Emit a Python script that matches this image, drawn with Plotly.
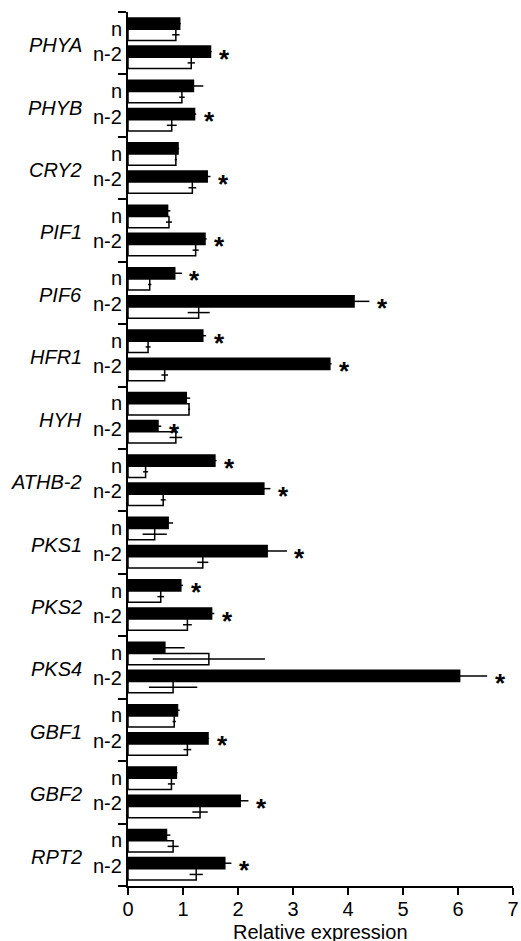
import plotly.graph_objects as go

genes = ["PHYA", "PHYB", "CRY2", "PIF1", "PIF6", "HFR1", "HYH", "ATHB-2",
         "PKS1", "PKS2", "PKS4", "GBF1", "GBF2", "RPT2"]
row_labels = ["n", "n-2"]

black_n = [0.94, 1.19, 0.91, 0.72, 0.85, 1.36, 1.06, 1.58, 0.73, 0.96, 0.67, 0.90, 0.88, 0.70]
black_n_err = [0.02, 0.18, 0.02, 0.05, 0.13, 0.06, 0.07, 0.03, 0.09, 0.04, 0.36, 0.04, 0.02, 0.07]
white_n = [0.87, 0.98, 0.87, 0.745, 0.395, 0.365, 1.11, 0.32, 0.485, 0.595, 1.47, 0.84, 0.79, 0.82]
white_n_err = [0.067, 0.05, 0.02, 0.055, 0.03, 0.045, 0.02, 0.045, 0.22, 0.06, 1.02, 0.03, 0.065, 0.10]
black_n2 = [1.50, 1.21, 1.44, 1.40, 4.11, 3.67, 0.545, 2.47, 2.53, 1.52, 6.03, 1.455, 2.04, 1.76]
black_n2_err = [0.02, 0.03, 0.06, 0.03, 0.28, 0.03, 0.06, 0.12, 0.36, 0.05, 0.50, 0.02, 0.15, 0.12]
white_n2 = [1.15, 0.795, 1.17, 1.23, 1.285, 0.667, 0.87, 0.64, 1.36, 1.08, 0.82, 1.08, 1.31, 1.24]
white_n2_err = [0.067, 0.09, 0.07, 0.055, 0.20, 0.06, 0.115, 0.045, 0.10, 0.08, 0.44, 0.07, 0.14, 0.12]
sig_n = [False, False, False, False, True, True, False, True, False, True, False, False, False, False]
sig_n2 = [True] * 14

x_ticks = [0, 1, 2, 3, 4, 5, 6, 7]
x_title = "Relative expression"

FONT = "Liberation Sans, Arial, sans-serif"
N = len(genes)
TOP = 2 * N
BW = 0.36


def block_top(i):
    return TOP - 2 * i


y_bn = [block_top(i) - 0.37 for i in range(N)]
y_wn = [block_top(i) - 0.73 for i in range(N)]
y_bn2 = [block_top(i) - 1.27 for i in range(N)]
y_wn2 = [block_top(i) - 1.63 for i in range(N)]

fig = go.Figure()

err_style = dict(type="data", symmetric=True, color="black", thickness=1.5, width=0)

black_vals = black_n + black_n2
black_errs = black_n_err + black_n2_err
black_y = y_bn + y_bn2
white_vals = white_n + white_n2
white_errs = white_n_err + white_n2_err
white_y = y_wn + y_wn2

fig.add_trace(go.Bar(
    x=black_vals, y=black_y, orientation="h", width=BW,
    marker=dict(color="black", line=dict(color="black", width=1.5)),
    error_x=dict(array=black_errs, **err_style),
    showlegend=False, hoverinfo="x",
))
fig.add_trace(go.Bar(
    x=white_vals, y=white_y, orientation="h", width=BW,
    marker=dict(color="white", line=dict(color="black", width=1.5)),
    error_x=dict(array=white_errs, **err_style),
    showlegend=False, hoverinfo="x",
))

annotations = []
star_font = dict(family=FONT, size=26, color="black")
for i in range(N):
    if sig_n[i]:
        annotations.append(dict(x=black_n[i] + black_n_err[i], y=y_bn[i], text="<b>*</b>",
                                showarrow=False, xanchor="center", xshift=13, yshift=-7,
                                font=star_font))
    if sig_n2[i]:
        annotations.append(dict(x=black_n2[i] + black_n2_err[i], y=y_bn2[i], text="<b>*</b>",
                                showarrow=False, xanchor="center", xshift=13, yshift=-7,
                                font=star_font))

for i, g in enumerate(genes):
    t = block_top(i)
    annotations.append(dict(x=0, y=t - 0.535, text=row_labels[0], showarrow=False,
                            xanchor="right", xshift=-4.5,
                            font=dict(family=FONT, size=20, color="black")))
    annotations.append(dict(x=0, y=t - 1.35, text=row_labels[1], showarrow=False,
                            xanchor="right", xshift=-4.5,
                            font=dict(family=FONT, size=20, color="black")))
    annotations.append(dict(x=0, y=t - 1.06, text="<i>" + g + "</i>", showarrow=False,
                            xanchor="right", xshift=-44,
                            font=dict(family=FONT, size=20, color="black")))

# x-axis title
annotations.append(dict(xref="paper", yref="paper", x=0.5, y=0, text=x_title,
                        showarrow=False, xanchor="center", yanchor="middle", yshift=-46,
                        font=dict(family=FONT, size=20, color="black")))

fig.update_layout(
    width=521, height=941,
    margin=dict(l=128, r=8, t=12, b=55, autoexpand=False),
    plot_bgcolor="white", paper_bgcolor="white",
    barmode="overlay",
    annotations=annotations,
    font=dict(family=FONT, size=20, color="black"),
    xaxis=dict(range=[0, 7], tickvals=x_ticks, ticktext=[str(v) for v in x_ticks],
               ticks="outside", ticklen=7, tickwidth=2, tickcolor="black",
               ticklabelstandoff=-3,
               showline=True, linewidth=2, linecolor="black",
               showgrid=False, zeroline=False, automargin=False,
               tickfont=dict(family=FONT, size=20, color="black")),
    yaxis=dict(range=[0, TOP], tickvals=list(range(0, TOP + 1, 2)),
               ticks="outside", ticklen=8, tickwidth=2, tickcolor="black",
               showticklabels=False, showline=True, linewidth=2, linecolor="black",
               showgrid=False, zeroline=False, automargin=False),
)

fig.write_html(
    "out.html",
    config={"displayModeBar": False},
    post_script=(
        "document.documentElement.style.margin='0';"
        "document.documentElement.style.overflow='hidden';"
        "document.body.style.margin='0';"
        "document.body.style.overflow='hidden';"
    ),
)
